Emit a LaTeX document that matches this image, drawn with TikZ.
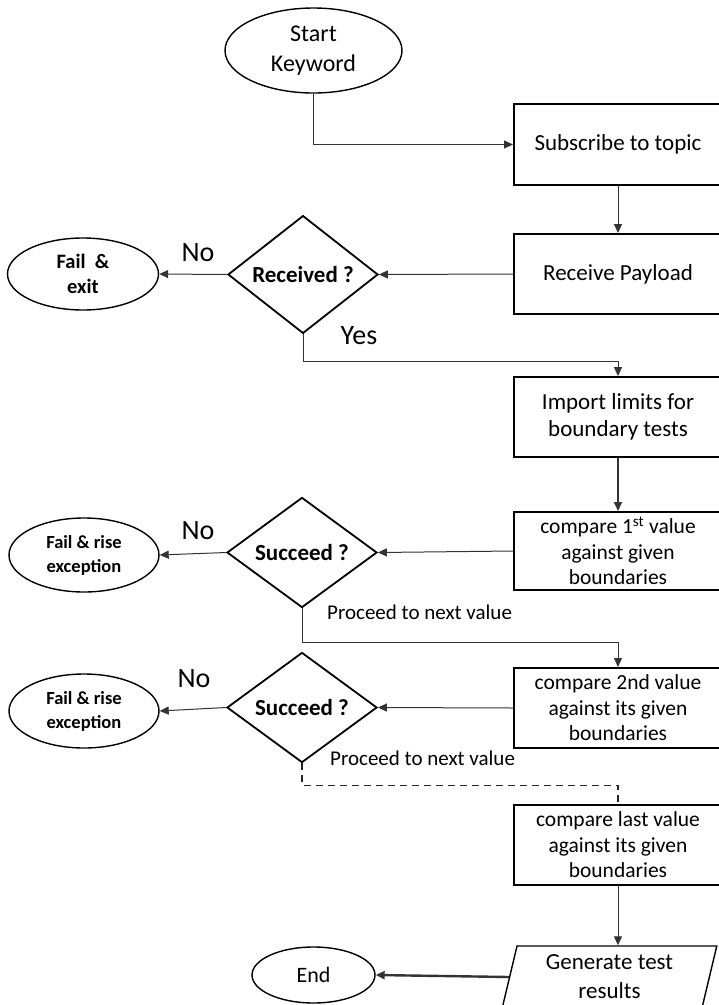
\documentclass[tikz,border=0pt]{standalone}
\usepackage{fontspec}
\setmainfont{Carlito}
\usetikzlibrary{shapes.geometric,arrows.meta}
\newcommand{\fsz}[2]{\fontsize{#1}{#2}\selectfont}

\begin{document}
\begin{tikzpicture}[x=1pt,y=-1pt,
  every node/.style={inner sep=0pt},
  term/.style={ellipse, draw, line width=1.4pt, align=center, font=\fsz{24}{30}},
  proc/.style={rectangle, draw, line width=2pt, minimum width=208pt, minimum height=80pt, align=center, font=\fsz{23}{27}},
  cmpbox/.style={proc, font=\fsz{21.5}{25.5}},
  decision/.style={diamond, draw, line width=1.8pt, minimum width=150pt, minimum height=105pt, font=\bfseries\fsz{23}{28}},
  failnode/.style={ellipse, draw, line width=1.4pt, minimum width=150pt, minimum height=74pt, align=center, font=\bfseries\fsz{18.5}{24}},
  conn/.style={draw=black!80, line width=1pt, -{Triangle[length=9pt,width=8pt]}},
  lbl/.style={font=\fsz{28}{30}},
  note/.style={anchor=west, font=\fsz{21}{24}}]

\fill[white] (0,0) rectangle (719,1005);
\useasboundingbox (0,0) rectangle (719,1005);

% start and subscription
\node[term, minimum width=177pt, minimum height=85pt] (start) at (313.5,50.5) {Start\\Keyword};
\node[proc, minimum height=81pt] (sub) at (618,144.5) {Subscribe to topic};
\node[proc] (recv) at (618,274) {Receive Payload};

% payload check
\node[decision] (dec1) at (303,274.5) {Received ?};
\node[failnode, minimum width=151pt, minimum height=72pt, font=\bfseries\fsz{20.5}{25}] (fail1) at (83,274) {Fail\ \ \&\\exit};
\node[lbl] (no1) at (198,253) {No};
\node[lbl] (yes) at (359,336) {Yes};

% limits and first value
\node[proc] (import) at (618,417) {Import limits for\\boundary tests};
\node[cmpbox, minimum height=78pt] (cmp1) at (618,551) {compare 1\textsuperscript{st} value\\against given\\boundaries};
\node[decision] (dec2) at (302,552.5) {Succeed ?};
\node[failnode] (fail2) at (84,555) {Fail \& rise\\exception};
\node[lbl] (no2) at (198,531) {No};
\node[note] (next1) at (327,612) {Proceed to next value};

% second value
\node[cmpbox] (cmp2) at (618,708) {compare 2nd value\\against its given\\boundaries};
\node[decision] (dec3) at (302,707.5) {Succeed ?};
\node[failnode] (fail3) at (84,711) {Fail \& rise\\exception};
\node[lbl] (no3) at (194,679) {No};
\node[note] (next2) at (330,758) {Proceed to next value};

% last value and results
\node[cmpbox] (cmpN) at (618,845) {compare last value\\against its given\\boundaries};
\node[trapezium, trapezium left angle=77, trapezium right angle=103, trapezium stretches=true,
      draw, line width=1.4pt, minimum width=215pt, minimum height=62pt, align=center,
      font=\fsz{23}{29}] (gen) at (609.5,977) {Generate test\\results};
\node[term, minimum width=123pt, minimum height=56pt, font=\fsz{22}{26}] (end) at (313.5,975) {End};

% connectors
\draw[conn] (start.south) |- (sub.west);
\draw[conn] (sub.south) -- (recv.north);
\draw[conn] (recv.west) -- (dec1.east);
\draw[conn] (dec1.west) -- (fail1.east);
\draw[conn] (dec1.south) -- ++(0,27) -| (import.north);
\draw[conn, line width=1.8pt] (import.south) -- (cmp1.north);
\draw[conn] (cmp1.west) -- (dec2.east);
\draw[conn] (dec2.west) -- (fail2.east);
\draw[conn] (dec2.south) -- ++(0,34) -| (cmp2.north);
\draw[conn] (cmp2.west) -- (dec3.east);
\draw[conn] (dec3.west) -- (fail3.east);
\draw[draw=black!85, line width=1.3pt, dash pattern=on 7pt off 5pt] (dec3.south) -- ++(0,22) -| (cmpN.north);
\draw[conn] (cmpN.south) -- (cmpN.south |- gen.north);
\draw[conn, line width=2.4pt] (gen.west) -- (end.east);
\end{tikzpicture}
\end{document}
